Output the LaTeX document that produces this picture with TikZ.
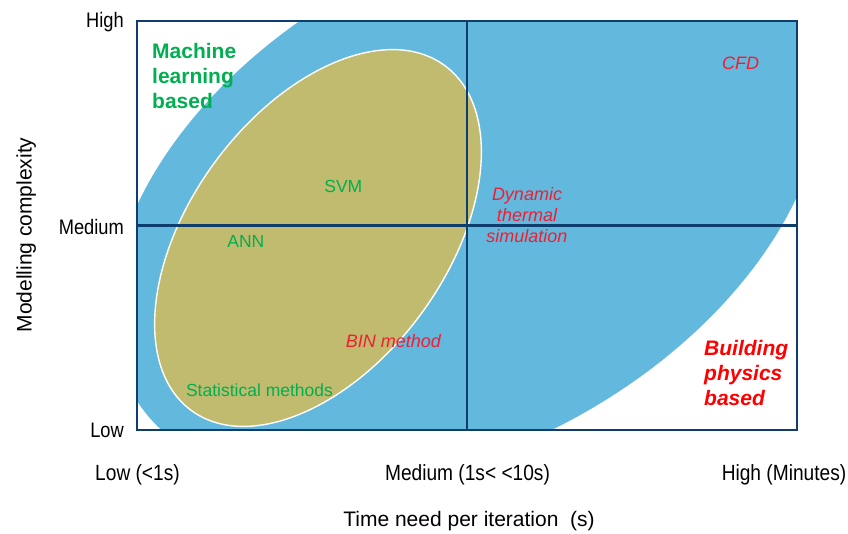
\documentclass[tikz,border=0pt]{standalone}
\usepackage{fontspec}
\setmainfont{Liberation Sans}
\newfontfamily\condfont[FakeStretch=0.87]{Liberation Sans}
\definecolor{bblue}{HTML}{63B8DE}
\definecolor{oliv}{HTML}{C0BB6E}
\definecolor{navy}{HTML}{0F3D6E}
\definecolor{mlgreen}{HTML}{00B050}
\definecolor{bpred}{HTML}{FF0000}
\definecolor{itred}{HTML}{F01E32}
\begin{document}
\begin{tikzpicture}[x=1pt,y=-1pt,
  ylab/.style={font=\condfont\fontsize{21}{25}\selectfont, inner sep=0pt, anchor=base east},
  xlab/.style={font=\condfont\fontsize{22}{26}\selectfont, inner sep=0pt, anchor=base},
  axtitle/.style={font=\fontsize{21}{25}\selectfont, inner sep=0pt, anchor=base},
  greenlab/.style={font=\fontsize{17.5}{21}\selectfont, text=mlgreen, inner sep=0pt},
  redlab/.style={font=\itshape\fontsize{18}{21}\selectfont, text=itred, inner sep=0pt},
  biglab/.style={font=\bfseries\fontsize{21}{25}\selectfont, inner sep=0pt, align=left, anchor=north west},
  gridline/.style={draw=navy, line width=2.5pt}]
\useasboundingbox (0,0) rectangle (848,533);
% big blue ellipse, clipped to the plot area
\begin{scope}
  \clip (137,21) rectangle (797,430);
  \fill[bblue, rotate around={30:(467,201)}] (467,201) ellipse [x radius=386, y radius=242];
\end{scope}
% olive ellipse
\filldraw[fill=oliv, draw=white, line width=1.4pt, rotate around={53.7:(318,238)}]
  (318,238) ellipse [x radius=214, y radius=128];
% plot frame and quadrant lines
\node[gridline, minimum width=660pt, minimum height=409pt, inner sep=0pt] (box) at (467,225.5) {};
\draw[gridline] (box.north) -- (box.south);
\draw[gridline] (box.west) -- (box.east);
% axis labels
\node[ylab] (yhigh) at (124,27) {High};
\node[ylab] (ymed) at (124,234) {Medium};
\node[ylab] (ylow) at (124,437) {Low};
\node[axtitle, rotate=90] (ytitle) at (31.7,235) {Modelling complexity};
\node[xlab] (xlow) at (137.5,480.5) {Low (<1s)};
\node[xlab] (xmed) at (467.5,480.5) {Medium (1s< <10s)};
\node[xlab] (xhigh) at (784,480.5) {High (Minutes)};
\node[axtitle] (xtitle) at (469,526.3) {Time need per iteration\ \ (s)};
% region labels
\node[biglab, text=mlgreen] (ml) at (152,43.3) {Machine\\learning\\based};
\node[biglab, text=bpred, font=\bfseries\itshape\fontsize{21}{25}\selectfont] (bp) at (704,340) {Building\\physics\\based};
% method labels
\node[greenlab] (svm) at (343.3,186.7) {SVM};
\node[greenlab] (ann) at (245.8,241.2) {ANN};
\node[greenlab] (stat) at (259.5,390.3) {Statistical methods};
\node[redlab] (bin) at (393.3,341.3) {BIN method};
\node[redlab] (cfd) at (740.7,63) {CFD};
\node[redlab, align=center, anchor=north] (dts) at (527,187) {Dynamic\\thermal\\simulation};
\end{tikzpicture}
\end{document}
